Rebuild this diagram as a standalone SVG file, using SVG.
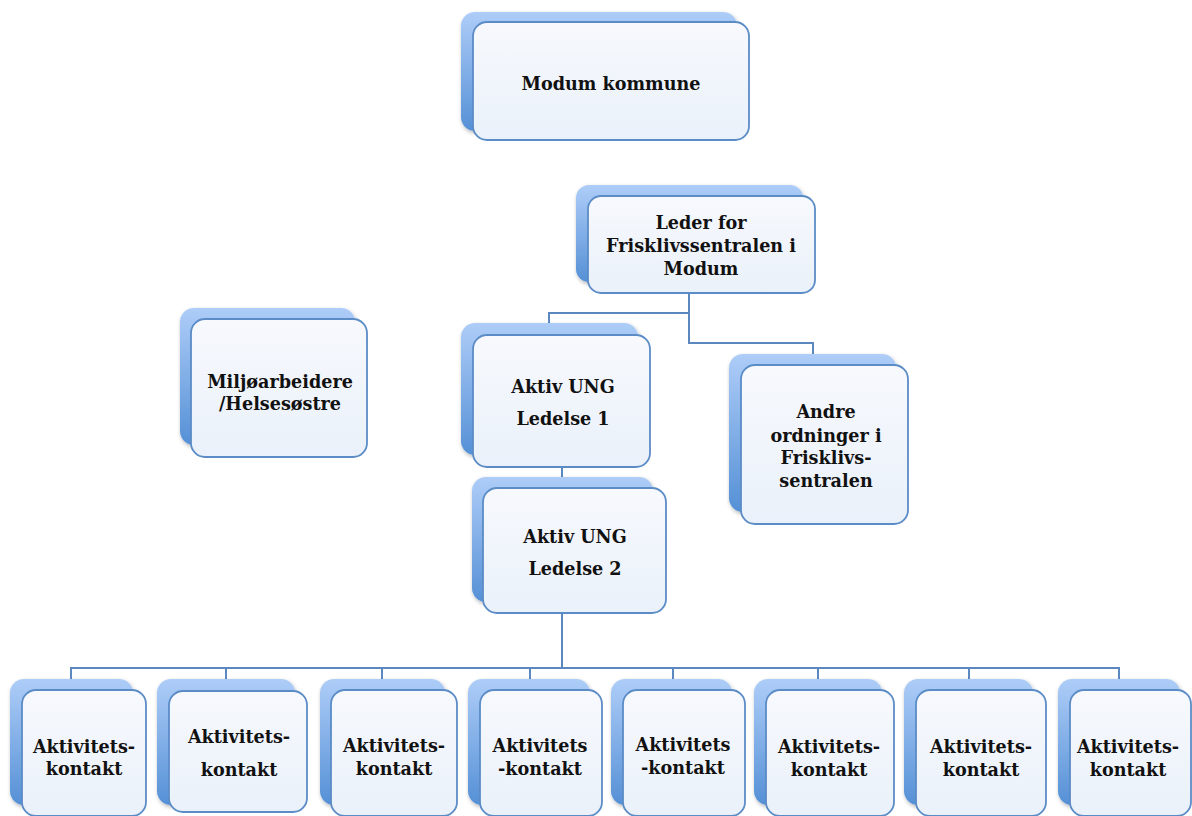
<svg xmlns="http://www.w3.org/2000/svg" width="1192" height="816" viewBox="0 0 1192 816">
<defs>
<linearGradient id="gBack" x1="0" y1="0" x2="0" y2="1">
<stop offset="0" stop-color="#aecdf8"/>
<stop offset="1" stop-color="#5590d6"/>
</linearGradient>
<linearGradient id="gFront" x1="0" y1="0" x2="0" y2="1">
<stop offset="0" stop-color="#f7f9fd"/>
<stop offset="1" stop-color="#eaf1fa"/>
</linearGradient>
<filter id="sh" x="-10%" y="-10%" width="130%" height="130%">
<feGaussianBlur in="SourceAlpha" stdDeviation="2"/>
<feOffset dx="1" dy="2" result="b"/>
<feComponentTransfer><feFuncA type="linear" slope="0.3"/></feComponentTransfer>
<feMerge><feMergeNode/><feMergeNode in="SourceGraphic"/></feMerge>
</filter>
</defs>
<style>
.back{fill:url(#gBack);filter:url(#sh)}
.front{fill:url(#gFront);stroke:#5b8cc6;stroke-width:1.8}
.t{font-family:"DejaVu Serif","Liberation Serif",serif;font-weight:bold;font-size:17.6px;fill:#111;text-anchor:middle;dominant-baseline:central}
.c{fill:none;stroke:#5b89bf;stroke-width:2}
</style>
<rect width="1192" height="816" fill="#ffffff"/>
<g id="connectors">
<polyline class="c" points="689,294 689,313 549,313 549,323"/>
<polyline class="c" points="689,313 689,343 813,343 813,354"/>
<line class="c" x1="562" y1="467" x2="562" y2="477"/>
<line class="c" x1="562" y1="613" x2="562" y2="668"/>
<line class="c" x1="71" y1="668" x2="1119" y2="668"/>
<line class="c" x1="71" y1="667" x2="71" y2="679"/>
<line class="c" x1="226" y1="667" x2="226" y2="679"/>
<line class="c" x1="382" y1="667" x2="382" y2="679"/>
<line class="c" x1="530" y1="667" x2="530" y2="679"/>
<line class="c" x1="673" y1="667" x2="673" y2="679"/>
<line class="c" x1="818" y1="667" x2="818" y2="679"/>
<line class="c" x1="969" y1="667" x2="969" y2="679"/>
<line class="c" x1="1119" y1="667" x2="1119" y2="679"/>
</g>
<g id="modum">
<rect class="back" x="461" y="12" width="276" height="119" rx="14"/>
<rect class="front" x="473" y="22" width="276" height="118" rx="14"/>
<text class="t" x="611" y="83">Modum kommune</text>
</g>
<g id="leder">
<rect class="back" x="576" y="185" width="227" height="97" rx="13"/>
<rect class="front" x="588" y="196" width="227" height="97" rx="13"/>
<text class="t" x="701" y="222">Leder for</text>
<text class="t" x="701" y="245">Frisklivssentralen i</text>
<text class="t" x="701" y="268">Modum</text>
</g>
<g id="miljo">
<rect class="back" x="180" y="308" width="175" height="137" rx="14"/>
<rect class="front" x="191" y="319" width="176" height="138" rx="14"/>
<text class="t" x="280" y="381">Miljøarbeidere</text>
<text class="t" x="280" y="403">/Helsesøstre</text>
</g>
<g id="ung1">
<rect class="back" x="461" y="323" width="177" height="132" rx="14"/>
<rect class="front" x="473" y="335" width="177" height="132" rx="14"/>
<text class="t" x="563" y="386">Aktiv UNG</text>
<text class="t" x="563" y="418">Ledelse 1</text>
</g>
<g id="andre">
<rect class="back" x="729" y="354" width="167" height="158" rx="14"/>
<rect class="front" x="741" y="365" width="167" height="159" rx="14"/>
<text class="t" x="826" y="411">Andre</text>
<text class="t" x="826" y="435">ordninger i</text>
<text class="t" x="826" y="457">Frisklivs-</text>
<text class="t" x="826" y="480">sentralen</text>
</g>
<g id="ung2">
<rect class="back" x="472" y="477" width="181" height="125" rx="14"/>
<rect class="front" x="483" y="488" width="183" height="125" rx="14"/>
<text class="t" x="575" y="536">Aktiv UNG</text>
<text class="t" x="575" y="568">Ledelse 2</text>
</g>
<g id="k1">
<rect class="back" x="10" y="679" width="123" height="126" rx="14"/>
<rect class="front" x="22" y="690" width="124" height="126" rx="14"/>
<text class="t" x="84" y="746">Aktivitets-</text>
<text class="t" x="84" y="768">kontakt</text>
</g>
<g id="k2">
<rect class="back" x="157" y="679" width="138" height="126" rx="14"/>
<rect class="front" x="169" y="691" width="138" height="121" rx="14"/>
<text class="t" x="239" y="736">Aktivitets-</text>
<text class="t" x="239" y="769">kontakt</text>
</g>
<g id="k3">
<rect class="back" x="320" y="679" width="125" height="126" rx="14"/>
<rect class="front" x="331" y="690" width="126" height="126" rx="14"/>
<text class="t" x="394" y="745">Aktivitets-</text>
<text class="t" x="394" y="768">kontakt</text>
</g>
<g id="k4">
<rect class="back" x="468" y="679" width="122" height="126" rx="14"/>
<rect class="front" x="480" y="690" width="122" height="126" rx="14"/>
<text class="t" x="540" y="745">Aktivitets</text>
<text class="t" x="540" y="768">-kontakt</text>
</g>
<g id="k5">
<rect class="back" x="611" y="679" width="121" height="126" rx="14"/>
<rect class="front" x="623" y="690" width="122" height="126" rx="14"/>
<text class="t" x="683" y="744">Aktivitets</text>
<text class="t" x="683" y="767">-kontakt</text>
</g>
<g id="k6">
<rect class="back" x="754" y="679" width="128" height="126" rx="14"/>
<rect class="front" x="766" y="690" width="128" height="126" rx="14"/>
<text class="t" x="829" y="746">Aktivitets-</text>
<text class="t" x="829" y="769">kontakt</text>
</g>
<g id="k7">
<rect class="back" x="904" y="679" width="129" height="126" rx="14"/>
<rect class="front" x="916" y="690" width="130" height="126" rx="14"/>
<text class="t" x="981" y="746">Aktivitets-</text>
<text class="t" x="981" y="769">kontakt</text>
</g>
<g id="k8">
<rect class="back" x="1058" y="679" width="122" height="126" rx="14"/>
<rect class="front" x="1070" y="690" width="121" height="126" rx="14"/>
<text class="t" x="1128" y="746">Aktivitets-</text>
<text class="t" x="1128" y="769">kontakt</text>
</g>
</svg>
